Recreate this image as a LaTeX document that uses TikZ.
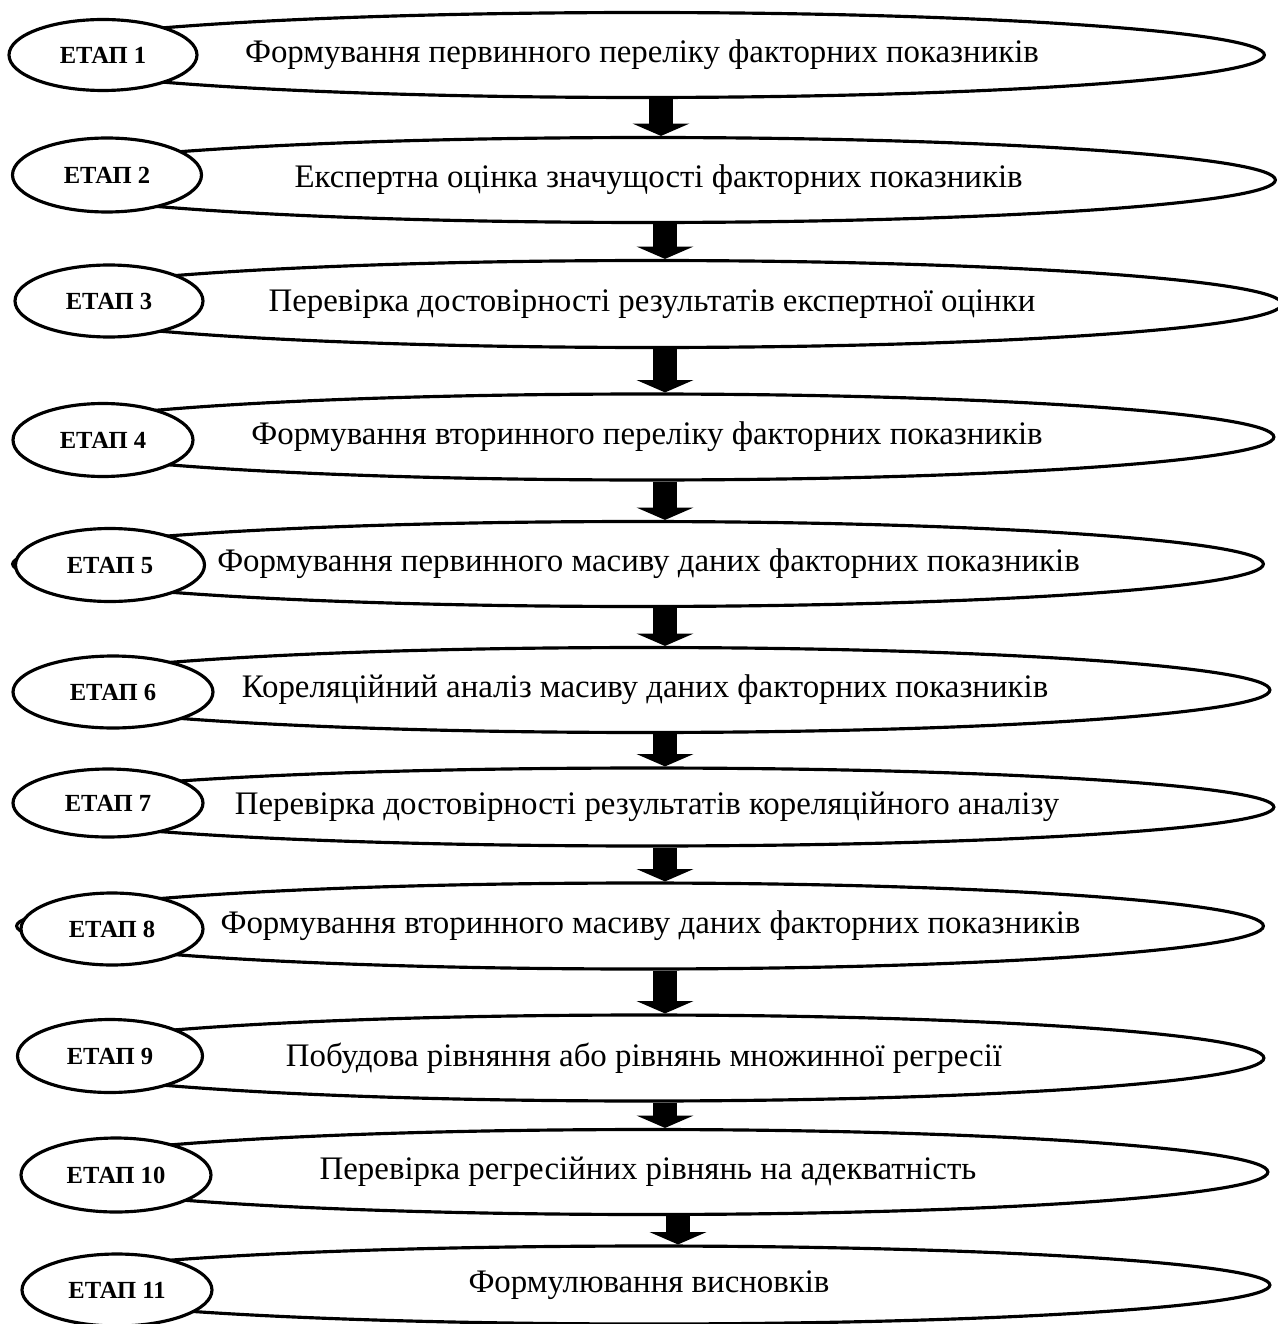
\documentclass[tikz,border=0pt]{standalone}
\usepackage{fontspec}
\setmainfont{Liberation Serif}
\usetikzlibrary{shapes.geometric, arrows.meta}

\begin{document}
\begin{tikzpicture}[
		x=0.02cm, y=-0.02cm,
		BlockArrow/.style={
			line width=13.7pt,
			-{Triangle[width=32pt, length=7pt]}
		}
	]
	\tikzstyle{Node} = [ %common look of both kinds of ellipses
		ellipse,
		draw=black,
		line width=1.8pt,
		inner sep=0pt
	]
	\tikzstyle{TaskNode} = [
		Node,
		minimum height=1.7cm,
		font=\fontsize{18.7}{22}\selectfont
	]
	\tikzstyle{StageNode} = [
		Node,
		fill=white,
		font=\fontsize{14}{16}\selectfont\bfseries
	]
	\useasboundingbox (0,0) rectangle (1277,1324);
	
	% the long ellipses with the tasks
	\node (t1) [TaskNode, minimum width=24.9cm] at (642,55) {Формування первинного переліку факторних показників};
	\node (t2) [TaskNode, minimum width=25.1cm] at (648,180) {\hspace{12pt}Експертна оцінка значущості факторних показників};
	\node (t3) [TaskNode, minimum width=25.2cm, minimum height=1.74cm] at (652,304) {Перевірка достовірності результатів експертної оцінки};
	\node (t4) [TaskNode, minimum width=25.08cm, minimum height=1.72cm] at (647,437) {Формування вторинного переліку факторних показників};
	\node (t5) [TaskNode, minimum width=25.02cm] at (638,564) {\hspace{12pt}Формування первинного масиву даних факторних показників};
	\node (t6) [TaskNode, minimum width=25cm] at (645,690) {Кореляційний аналіз масиву даних факторних показників};
	\node (t7) [TaskNode, minimum width=25.08cm, minimum height=1.56cm] at (647,807) {Перевірка достовірності результатів кореляційного аналізу};
	\node (t8) [TaskNode, minimum width=24.94cm, minimum height=1.72cm] at (640,926) {\hspace{12pt}Формування вторинного масиву даних факторних показників};
	\node (t9) [TaskNode, minimum width=24.8cm, minimum height=1.72cm] at (644,1058) {Побудова рівняння або рівнянь множинної регресії};
	\node (t10) [TaskNode, minimum width=24.8cm] at (648,1172) {Перевірка регресійних рівнянь на адекватність};
	\node (t11) [TaskNode, minimum width=24.84cm, minimum height=1.56cm] at (649,1285) {Формулювання висновків};
	
	% arrows between the tasks
	\coordinate (c1) at (661,0);
	\coordinate (c2) at (665,0);
	\coordinate (c3) at (678,0);
	\draw[BlockArrow] (t1.south -| c1) -- (t2.north -| c1);
	\draw[BlockArrow] (t2.south -| c2) -- (t3.north -| c2);
	\draw[BlockArrow] (t3.south -| c2) -- (t4.north -| c2);
	\draw[BlockArrow] (t4.south -| c2) -- (t5.north -| c2);
	\draw[BlockArrow] (t5.south -| c2) -- (t6.north -| c2);
	\draw[BlockArrow] (t6.south -| c2) -- (t7.north -| c2);
	\draw[BlockArrow] (t7.south -| c2) -- (t8.north -| c2);
	\draw[BlockArrow] (t8.south -| c2) -- (t9.north -| c2);
	\draw[BlockArrow] (t9.south -| c2) -- (t10.north -| c2);
	\draw[BlockArrow] (t10.south -| c3) -- (t11.north -| c3);
	
	% the small ellipses with the stage numbers
	\node (e1) [StageNode, minimum width=3.76cm, minimum height=1.42cm] at (103,55) {ЕТАП 1};
	\node (e2) [StageNode, minimum width=3.78cm, minimum height=1.48cm] at (107,175) {ЕТАП 2};
	\node (e3) [StageNode, minimum width=3.76cm, minimum height=1.44cm] at (109,301) {ЕТАП 3};
	\node (e4) [StageNode, minimum width=3.6cm, minimum height=1.46cm] at (103,440) {ЕТАП 4};
	\node (e5) [StageNode, minimum width=3.78cm, minimum height=1.46cm] at (110,565) {ЕТАП 5};
	\node (e6) [StageNode, minimum width=4cm, minimum height=1.44cm] at (113,692) {ЕТАП 6};
	\node (e7) [StageNode, minimum width=3.8cm, minimum height=1.36cm] at (108,803) {ЕТАП 7};
	\node (e8) [StageNode, minimum width=3.64cm, minimum height=1.44cm] at (112,929) {ЕТАП 8};
	\node (e9) [StageNode, minimum width=3.7cm, minimum height=1.46cm] at (110,1056) {ЕТАП 9};
	\node (e10) [StageNode, minimum width=3.8cm, minimum height=1.48cm] at (116,1175) {ЕТАП 10};
	\node (e11) [StageNode, minimum width=3.8cm, minimum height=1.44cm] at (117,1290) {ЕТАП 11};
\end{tikzpicture}
\end{document}
